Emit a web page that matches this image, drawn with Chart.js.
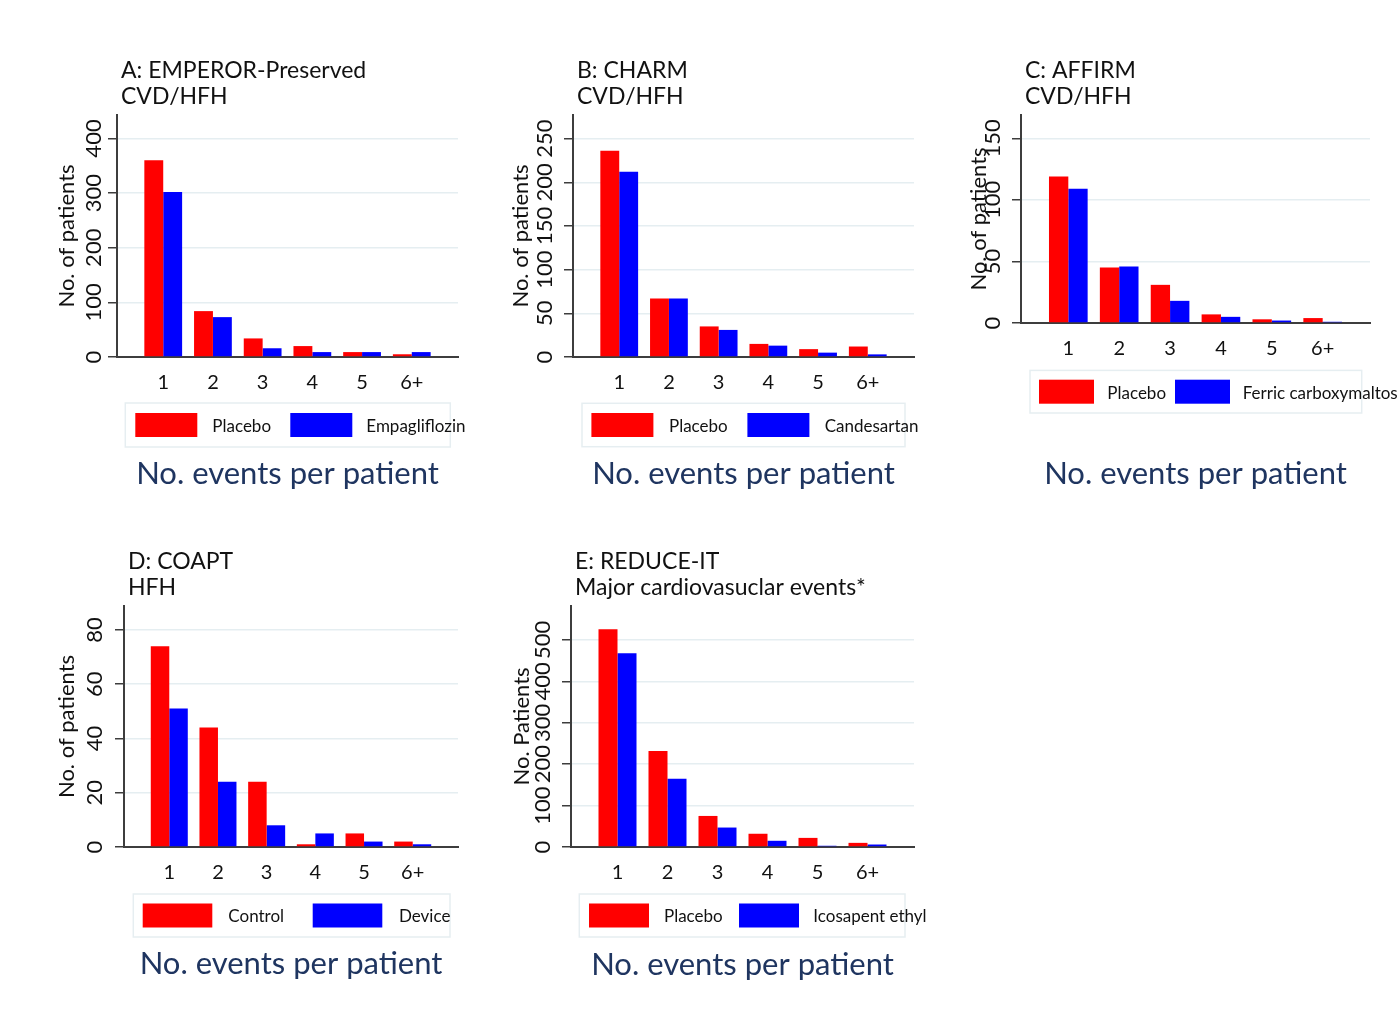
<!DOCTYPE html>
<html>
<head>
<meta charset="utf-8">
<script src="https://cdn.jsdelivr.net/npm/chart.js@4/dist/chart.umd.min.js"></script>
<style>
  html, body { margin: 0; padding: 0; background: #ffffff; }
  body { width: 1398px; height: 1031px; position: relative; overflow: hidden; }
  canvas { position: absolute; }
</style>
</head>
<body>
<canvas id="chartA"></canvas>
<canvas id="chartB"></canvas>
<canvas id="chartC"></canvas>
<canvas id="chartD"></canvas>
<canvas id="chartE"></canvas>
<script>
// Number of events per patient (x categories)
const eventCategories = ['1', '2', '3', '4', '5', '6+'];

// A: EMPEROR-Preserved, CVD/HFH
const emperorPlacebo = [360, 84, 34, 20, 9, 5];
const emperorEmpagliflozin = [302, 73, 16, 9, 9, 9];
const emperorTicks = [0, 100, 200, 300, 400];

// B: CHARM, CVD/HFH
const charmPlacebo = [236, 67, 35, 15, 9, 12];
const charmCandesartan = [212, 67, 31, 13, 5, 3];
const charmTicks = [0, 50, 100, 150, 200, 250];

// C: AFFIRM, CVD/HFH
const affirmPlacebo = [119, 45, 31, 7, 3, 4];
const affirmFerric = [109, 46, 18, 5, 2, 1];
const affirmTicks = [0, 50, 100, 150];

// D: COAPT, HFH
const coaptControl = [74, 44, 24, 1, 5, 2];
const coaptDevice = [51, 24, 8, 5, 2, 1];
const coaptTicks = [0, 20, 40, 60, 80];

// E: REDUCE-IT, major cardiovascular events
const reducePlacebo = [526, 232, 75, 32, 22, 10];
const reduceIcosapent = [468, 165, 47, 15, 3, 6];
const reduceTicks = [0, 100, 200, 300, 400, 500];

const FAMILY = 'Lato, "Noto Sans", sans-serif';
const SERIES_COLORS = ['#ff0000', '#0000ff'];
const AXIS_COLOR = '#3d3d3d';
const GRID_COLOR = '#e5eef1';
const TEXT_COLOR = '#111111';
const XTITLE_COLOR = '#1f3560';
const SIZES = { heading: 23, yTick: 22, xTick: 20, yTitle: 22, legend: 17, xTitle: 31 };
const TICK_LEN = 9;

const measureCtx = document.createElement('canvas').getContext('2d');
function textWidth(text, size) {
  measureCtx.font = `normal ${size}px ${FAMILY}`;
  return measureCtx.measureText(text).width;
}

const panels = [
  {
    id: 'chartA', heading: ['A: EMPEROR-Preserved', 'CVD/HFH'], yTitle: 'No. of patients',
    series: [['Placebo', emperorPlacebo], ['Empagliflozin', emperorEmpagliflozin]],
    yTicks: emperorTicks, yMax: 443,
    box: { left: 0, top: 0, width: 470, height: 500 },
    area: { left: 117, right: 458, top: 115, bottom: 357 },
    tickOffset: 23.5, yTitleOffset: 50, xTitleBaseline: 483,
    legend: { dx: 8.3, dy: 46, w: 325, h: 44, sw: 62, s1: 10, t1: 87, s2: 165, t2: 241 }
  },
  {
    id: 'chartB', heading: ['B: CHARM', 'CVD/HFH'], yTitle: 'No. of patients',
    series: [['Placebo', charmPlacebo], ['Candesartan', charmCandesartan]],
    yTicks: charmTicks, yMax: 277,
    box: { left: 465, top: 0, width: 465, height: 500 },
    area: { left: 573, right: 914, top: 115, bottom: 357 },
    tickOffset: 28.3, yTitleOffset: 51.6, xTitleBaseline: 482.5,
    legend: { dx: 9, dy: 46.3, w: 323, h: 43.4, sw: 62, s1: 9.4, t1: 87, s2: 165.4, t2: 242.7 }
  },
  {
    id: 'chartC', heading: ['C: AFFIRM', 'CVD/HFH'], yTitle: 'No. of patients',
    series: [['Placebo', affirmPlacebo], ['Ferric carboxymaltose', affirmFerric]],
    yTicks: affirmTicks, yMax: 169,
    box: { left: 930, top: 0, width: 468, height: 500 },
    area: { left: 1021, right: 1370, top: 115, bottom: 323 },
    tickOffset: 28.5, yTitleOffset: 42, xTitleBaseline: 483,
    legend: { dx: 9, dy: 47.4, w: 331.7, h: 42.6, sw: 55, s1: 9, t1: 77.3, s2: 145, t2: 212.7 }
  },
  {
    id: 'chartD', heading: ['D: COAPT', 'HFH'], yTitle: 'No. of patients',
    series: [['Control', coaptControl], ['Device', coaptDevice]],
    yTicks: coaptTicks, yMax: 88.8,
    box: { left: 0, top: 490, width: 470, height: 500 },
    area: { left: 124, right: 458, top: 606, bottom: 847 },
    tickOffset: 29, yTitleOffset: 57.5, xTitleBaseline: 973.3,
    legend: { dx: 9.3, dy: 47, w: 316.7, h: 43, sw: 69.6, s1: 9.4, t1: 95, s2: 179.4, t2: 265.7 }
  },
  {
    id: 'chartE', heading: ['E: REDUCE-IT', 'Major cardiovasuclar events*'], yTitle: 'No. Patients',
    series: [['Placebo', reducePlacebo], ['Icosapent ethyl', reduceIcosapent]],
    yTicks: reduceTicks, yMax: 582,
    box: { left: 465, top: 490, width: 465, height: 500 },
    area: { left: 571, right: 914, top: 606, bottom: 847 },
    tickOffset: 27.7, yTitleOffset: 49.3, xTitleBaseline: 974.3,
    legend: { dx: 8.3, dy: 47, w: 325.7, h: 43, sw: 60, s1: 9.7, t1: 84.7, s2: 159.7, t2: 234 }
  }
];

// Two-line panel heading above the plot, left-aligned with the y axis
const headingPlugin = {
  id: 'panelHeading',
  afterDraw(chart, args, opts) {
    const { ctx, chartArea } = chart;
    ctx.save();
    ctx.font = `normal ${SIZES.heading}px ${FAMILY}`;
    ctx.fillStyle = TEXT_COLOR;
    ctx.textAlign = 'left';
    ctx.textBaseline = 'alphabetic';
    opts.lines.forEach((line, i) => {
      ctx.fillText(line, chartArea.left + 4, chartArea.top - (i === 0 ? 37.5 : 11.5));
    });
    ctx.restore();
  }
};

// Boxed legend between the tick labels and the x-axis title
const boxedLegendPlugin = {
  id: 'boxedLegend',
  afterDraw(chart, args, L) {
    const { ctx, chartArea } = chart;
    const left = chartArea.left + L.dx;
    const top = chartArea.bottom + L.dy;
    ctx.save();
    ctx.fillStyle = '#ffffff';
    ctx.fillRect(left, top, L.w, L.h);
    ctx.strokeStyle = '#e6eef1';
    ctx.lineWidth = 1.5;
    ctx.strokeRect(left, top, L.w, L.h);
    ctx.font = `normal ${SIZES.legend}px ${FAMILY}`;
    ctx.textAlign = 'left';
    ctx.textBaseline = 'middle';
    chart.data.datasets.forEach((ds, k) => {
      const sx = left + (k === 0 ? L.s1 : L.s2);
      const tx = left + (k === 0 ? L.t1 : L.t2);
      ctx.fillStyle = ds.backgroundColor;
      ctx.fillRect(sx, top + (L.h - 24) / 2, L.sw, 24);
      ctx.fillStyle = TEXT_COLOR;
      ctx.fillText(ds.label, tx, top + L.h / 2 + 1.5);
    });
    ctx.restore();
  }
};

panels.forEach((p) => {
  const canvas = document.getElementById(p.id);
  canvas.style.left = p.box.left + 'px';
  canvas.style.top = p.box.top + 'px';
  canvas.width = p.box.width;
  canvas.height = p.box.height;

  const widest = Math.max(...p.yTicks.map(v => textWidth(String(v), SIZES.yTick)));
  const yTickPadding = p.tickOffset - TICK_LEN - widest / 2;
  const yTitleLine = SIZES.yTitle * 1.2;
  const yTitlePadTop = (p.area.left - p.yTitleOffset) - p.box.left - yTitleLine / 2;
  const xTitleLine = SIZES.xTitle * 1.2;
  const xTitleMiddle = p.xTitleBaseline - 0.29 * SIZES.xTitle;
  const xTitlePadBottom = (p.box.top + p.box.height) - xTitleLine / 2 - xTitleMiddle;

  new Chart(canvas, {
    type: 'bar',
    data: {
      datasets: p.series.map(([label, values], k) => ({
        label,
        data: values.map((v, i) => ({ x: i + 1, y: v })),
        backgroundColor: SERIES_COLORS[k],
        borderWidth: 0,
        categoryPercentage: 0.76,
        barPercentage: 1.0
      }))
    },
    options: {
      responsive: false,
      animation: false,
      devicePixelRatio: 1,
      layout: {
        padding: {
          top: p.area.top - p.box.top,
          right: p.box.left + p.box.width - p.area.right,
          left: 0,
          bottom: 0
        }
      },
      plugins: {
        legend: { display: false },
        tooltip: { enabled: false },
        title: { display: false },
        panelHeading: { lines: p.heading },
        boxedLegend: p.legend
      },
      scales: {
        x: {
          type: 'linear',
          offset: false,
          min: 0.07,
          max: 6.93,
          afterBuildTicks: (s) => { s.ticks = eventCategories.map((_, i) => ({ value: i + 1 })); },
          afterFit: (s) => { s.height = p.box.top + p.box.height - p.area.bottom; },
          grid: { display: false, drawTicks: false },
          border: { display: true, color: AXIS_COLOR, width: 2 },
          ticks: {
            callback: (v) => eventCategories[Math.round(v) - 1] ?? '',
            font: { family: FAMILY, size: SIZES.xTick },
            color: TEXT_COLOR,
            padding: 14,
            maxRotation: 0,
            autoSkip: false
          },
          title: {
            display: true,
            text: 'No. events per patient',
            color: XTITLE_COLOR,
            font: { family: FAMILY, size: SIZES.xTitle },
            padding: { top: 0, bottom: xTitlePadBottom }
          }
        },
        y: {
          min: 0,
          max: p.yMax,
          afterBuildTicks: (s) => { s.ticks = p.yTicks.map(v => ({ value: v })); },
          afterFit: (s) => { s.width = p.area.left - p.box.left; },
          grid: {
            color: GRID_COLOR,
            lineWidth: 1.5,
            drawTicks: true,
            tickLength: TICK_LEN,
            tickColor: AXIS_COLOR,
            tickWidth: 1.5
          },
          border: { display: true, color: AXIS_COLOR, width: 2 },
          ticks: {
            minRotation: 90,
            maxRotation: 90,
            crossAlign: 'center',
            font: { family: FAMILY, size: SIZES.yTick },
            color: TEXT_COLOR,
            padding: yTickPadding,
            autoSkip: false
          },
          title: {
            display: true,
            text: p.yTitle,
            color: TEXT_COLOR,
            font: { family: FAMILY, size: SIZES.yTitle },
            padding: { top: yTitlePadTop, bottom: 0 }
          }
        }
      }
    },
    plugins: [headingPlugin, boxedLegendPlugin]
  });
});
</script>
</body>
</html>
